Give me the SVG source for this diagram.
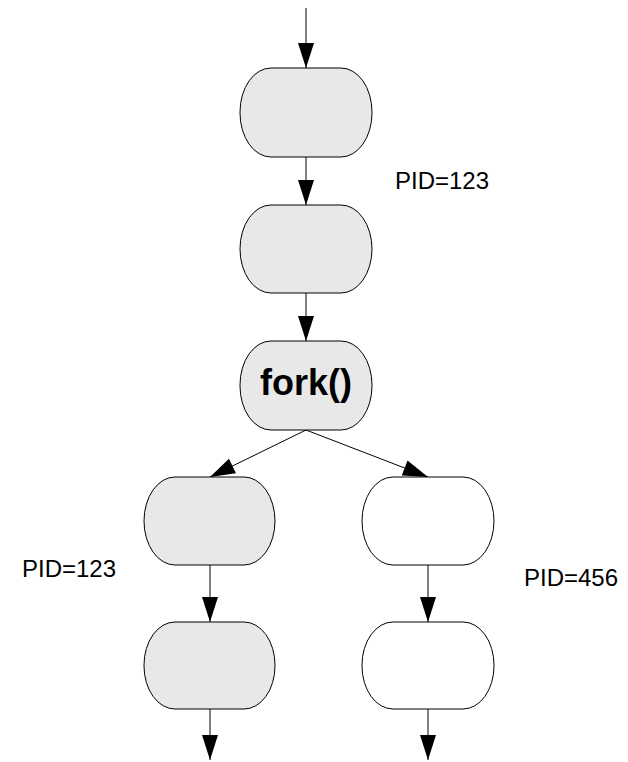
<svg xmlns="http://www.w3.org/2000/svg" width="628" height="762" viewBox="0 0 628 762">
  <style>
    .node { stroke: #000; stroke-width: 1; }
    .grey { fill: #e8e8e8; }
    .white { fill: #fff; }
    .edge { stroke: #000; stroke-width: 1; fill: none; marker-end: url(#arrow); }
    .label { font-family: "Liberation Sans", Arial, sans-serif; font-size: 24px; fill: #000; }
    .fork { font-family: "Liberation Sans", Arial, sans-serif; font-size: 36px; font-weight: bold; fill: #000; text-anchor: middle; }
  </style>
  <defs>
    <marker id="arrow" markerUnits="userSpaceOnUse" markerWidth="26" markerHeight="18" refX="25" refY="8" orient="auto" overflow="visible">
      <path d="M0,0 L25,8 L0,16 Z" fill="#000"/>
    </marker>
  </defs>
  <rect width="628" height="762" fill="#fff"/>

  <g id="edges">
    <line class="edge" x1="306" y1="8" x2="306" y2="68"/>
    <line class="edge" x1="306" y1="157" x2="306" y2="205"/>
    <line class="edge" x1="306" y1="293" x2="306" y2="341"/>
    <line class="edge" x1="306" y1="430" x2="210" y2="477"/>
    <line class="edge" x1="306" y1="430" x2="428" y2="477"/>
    <line class="edge" x1="210" y1="565" x2="210" y2="622"/>
    <line class="edge" x1="428" y1="565" x2="428" y2="622"/>
    <line class="edge" x1="210" y1="709" x2="210" y2="760"/>
    <line class="edge" x1="428" y1="709" x2="428" y2="760"/>
  </g>

  <g id="step1"><rect class="node grey" x="240" y="68" width="132" height="89" rx="31" ry="44"/></g>
  <g id="step2"><rect class="node grey" x="240" y="205" width="132" height="88" rx="31" ry="44"/></g>
  <g id="fork">
    <rect class="node grey" x="240" y="341" width="132" height="89" rx="31" ry="44"/>
    <text class="fork" x="306" y="395">fork()</text>
  </g>
  <g id="parent1"><rect class="node grey" x="144" y="477" width="131" height="88" rx="31" ry="44"/></g>
  <g id="child1"><rect class="node white" x="362" y="477" width="132" height="88" rx="31" ry="44"/></g>
  <g id="parent2"><rect class="node grey" x="144" y="622" width="131" height="87" rx="31" ry="43"/></g>
  <g id="child2"><rect class="node white" x="362" y="622" width="132" height="87" rx="31" ry="43"/></g>

  <g id="labels">
    <text class="label" x="395" y="189">PID=123</text>
    <text class="label" x="22" y="577">PID=123</text>
    <text class="label" x="524" y="586">PID=456</text>
  </g>
</svg>
